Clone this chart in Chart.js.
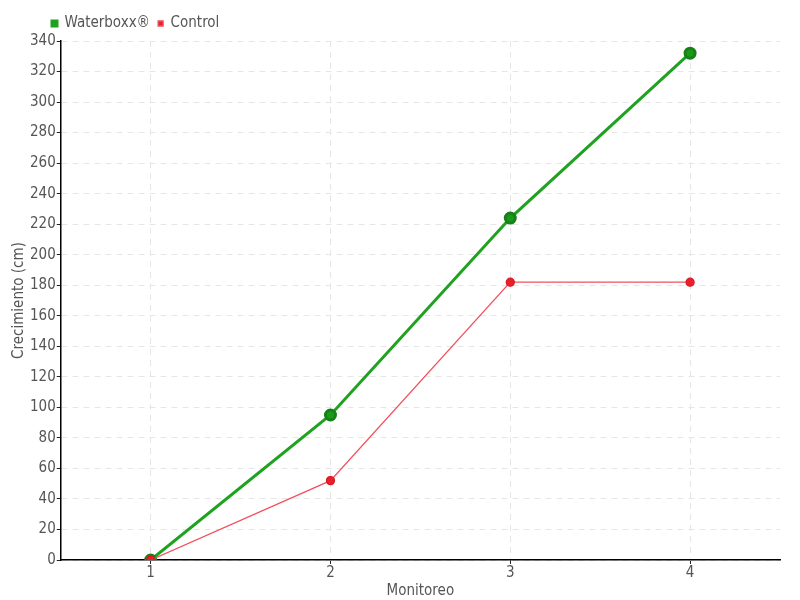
<!DOCTYPE html>
<html>
<head>
<meta charset="utf-8">
<script src="https://cdn.jsdelivr.net/npm/chart.js@4/dist/chart.umd.min.js"></script>
<style>
  html, body { margin: 0; padding: 0; background: #fff; }
  #wrap { width: 800px; height: 600px; }
</style>
</head>
<body>
<div id="wrap"><canvas id="chart"></canvas></div>
<script>
const categories = ['1', '2', '3', '4'];
const waterboxx = [0, 95, 224, 332];
const control = [0, 52, 182, 182];
const seriesNames = ['Waterboxx®', 'Control'];

const font = "'Liberation Sans Narrow', 'DejaVu Sans Condensed', sans-serif";
const textColor = '#555';

const gridOpts = {
  color: '#e6e6e6',
  tickColor: '#222',
  tickLength: 4,
  tickBorderDash: [],
  offset: false
};

// push the legend to the right, like the original
const legendShift = {
  id: 'legendShift',
  afterLayout(chart) {
    chart.legend.left = 44;
  }
};

new Chart(document.getElementById('chart'), {
  type: 'line',
  data: {
    labels: categories,
    datasets: [
      {
        label: seriesNames[0],
        data: waterboxx,
        order: 1,
        borderColor: '#1fa21f',
        backgroundColor: '#1fa21f',
        pointBackgroundColor: '#1a9a1a',
        pointBorderColor: '#178017',
        borderWidth: 3,
        pointRadius: 5,
        tension: 0
      },
      {
        label: seriesNames[1],
        data: control,
        order: 0,
        borderColor: '#f2505c',
        backgroundColor: '#e8202c',
        pointBackgroundColor: '#e8202c',
        pointBorderColor: '#d81a24',
        borderWidth: 1.3,
        pointRadius: 4,
        tension: 0
      }
    ]
  },
  plugins: [legendShift],
  options: {
    responsive: true,
    maintainAspectRatio: false,
    animation: false,
    layout: { padding: { left: 10, right: 20, top: 8, bottom: 0 } },
    plugins: {
      legend: {
        align: 'start',
        labels: {
          boxWidth: 5,
          boxHeight: 5,
          padding: 8,
          color: textColor,
          font: { family: font, size: 15 },
          sort: (a, b) => a.datasetIndex - b.datasetIndex
        }
      },
      tooltip: { enabled: false }
    },
    scales: {
      x: {
        offset: true,
        grid: gridOpts,
        border: { color: '#000', width: 1.5, dash: [6, 5] },
        ticks: { color: textColor, font: { family: font, size: 15 }, padding: 0 },
        title: { display: true, text: 'Monitoreo', color: textColor, font: { family: font, size: 15 }, padding: 0 }
      },
      y: {
        min: 0,
        max: 340,
        grid: gridOpts,
        border: { color: '#000', width: 1.5, dash: [6, 5] },
        ticks: { stepSize: 20, color: textColor, font: { family: font, size: 15 }, padding: 1 },
        title: { display: true, text: 'Crecimiento (cm)', color: textColor, font: { family: font, size: 15 }, padding: { top: 0, bottom: 1 } }
      }
    }
  }
});
</script>
</body>
</html>
